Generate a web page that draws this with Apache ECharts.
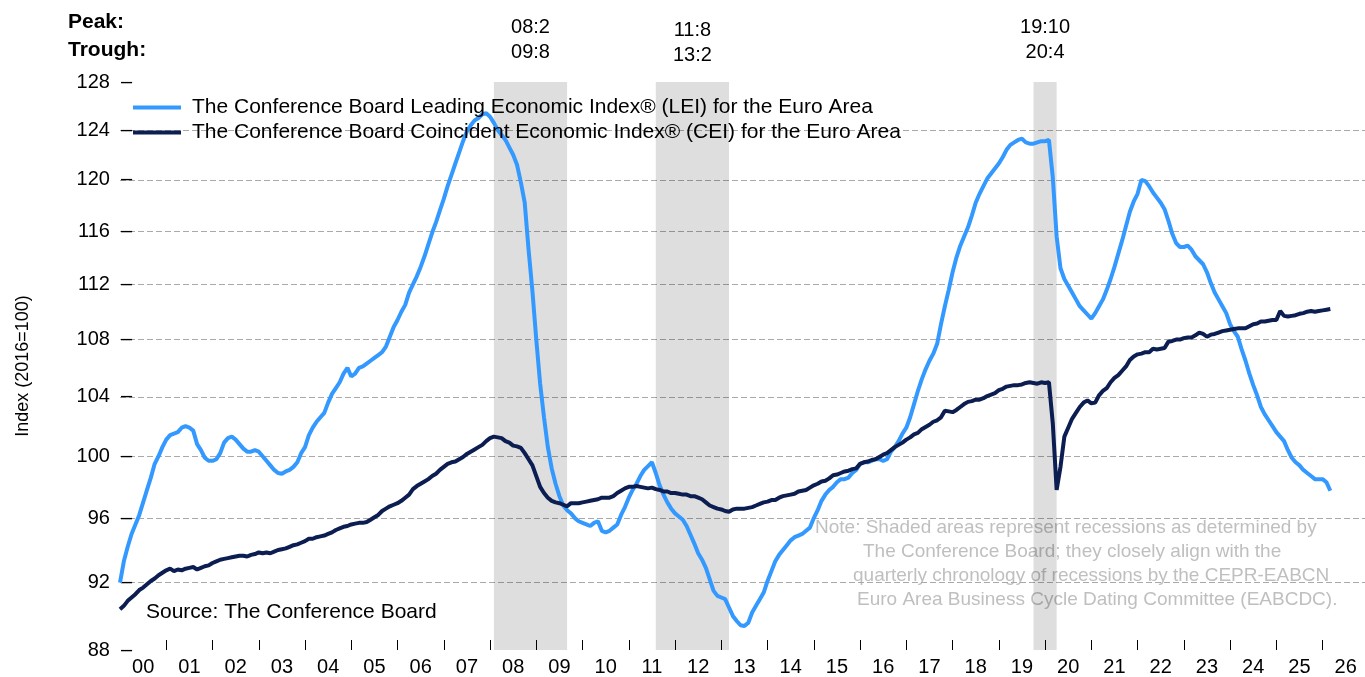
<!DOCTYPE html>
<html>
<head>
<meta charset="utf-8">
<title>Euro Area LEI and CEI</title>
<script src="https://cdn.jsdelivr.net/npm/echarts@6.0.0/dist/echarts.min.js"></script>
<style>
    html, body { margin: 0; padding: 0; background: #fff; }
    #main { width: 1365px; height: 677px; }
</style>
</head>
<body>
<div id="main"></div>
<script>
// monthly values, Jan 2000 onwards
var lei = [
    92.0, 93.3, 94.2, 95.0, 95.6, 96.2, 97.0, 97.8, 98.6, 99.5, 100.0, 100.6,          // 2000
    101.1, 101.4, 101.5, 101.6, 101.9, 102.0, 101.9, 101.7, 100.8, 100.4, 99.9, 99.7,  // 2001
    99.7, 99.8, 100.2, 100.9, 101.2, 101.3, 101.1, 100.8, 100.5, 100.3, 100.3, 100.4,  // 2002
    100.3, 100.0, 99.7, 99.4, 99.1, 98.9, 98.85, 99.0, 99.1, 99.3, 99.6, 100.2,        // 2003
    100.6, 101.4, 101.9, 102.3, 102.6, 102.9, 103.6, 104.2, 104.6, 105.0, 105.6, 106.0,// 2004
    105.4, 105.6, 106.0, 106.1, 106.3, 106.5, 106.7, 106.9, 107.1, 107.5, 108.2, 108.9,// 2005
    109.4, 110.0, 110.5, 111.4, 112.0, 112.6, 113.3, 114.1, 115.0, 115.9, 116.7, 117.6,// 2006
    118.5, 119.5, 120.4, 121.3, 122.2, 123.1, 123.9, 124.4, 124.8, 125.0, 125.3, 125.4,// 2007
    125.1, 124.6, 124.0, 123.6, 123.2, 122.6, 122.0, 121.2, 119.8, 118.2, 114.6, 111.5,// 2008
    108.0, 104.9, 102.6, 100.6, 99.2, 98.2, 97.4, 96.8, 96.5, 96.3, 96.0, 95.8,        // 2009
    95.7, 95.6, 95.5, 95.7, 95.8, 95.2, 95.1, 95.2, 95.4, 95.6, 96.2, 96.7,            // 2010
    97.3, 97.8, 98.2, 98.7, 99.1, 99.35, 99.6, 98.9, 98.1, 97.5, 97.0, 96.6,           // 2011
    96.3, 96.1, 95.9, 95.5, 94.95, 94.4, 93.8, 93.4, 92.9, 92.2, 91.5, 91.2,           // 2012
    91.1, 91.0, 90.5, 90.0, 89.7, 89.45, 89.4, 89.6, 90.2, 90.6, 91.0, 91.4,           // 2013
    92.1, 92.7, 93.3, 93.7, 94.0, 94.3, 94.6, 94.8, 94.9, 95.0, 95.2, 95.4,            // 2014
    96.0, 96.5, 97.1, 97.5, 97.8, 98.0, 98.3, 98.5, 98.5, 98.6, 98.9, 99.1,            // 2015
    99.5, 99.6, 99.6, 99.7, 99.8, 99.8, 99.7, 99.8, 100.3, 100.6, 101.0, 101.5,        // 2016
    101.9, 102.6, 103.5, 104.4, 105.2, 105.9, 106.5, 107.0, 107.7, 109.1, 110.4, 111.6,// 2017
    112.9, 114.0, 114.9, 115.6, 116.3, 117.2, 118.2, 118.9, 119.5, 120.1, 120.5, 120.9,// 2018
    121.3, 121.8, 122.4, 122.8, 123.0, 123.2, 123.3, 123.0, 122.9, 122.9, 123.0, 123.1,// 2019
    123.1, 123.2, 120.2, 115.6, 113.2, 112.4, 111.9, 111.4, 110.9, 110.4, 110.1, 109.8,// 2020
    109.5, 109.9, 110.4, 110.9, 111.6, 112.4, 113.3, 114.3, 115.3, 116.4, 117.5, 118.3,// 2021
    118.9, 120.0, 119.9, 119.5, 119.0, 118.6, 118.2, 117.7, 116.8, 115.8, 115.1, 114.8,// 2022
    114.8, 114.9, 114.6, 114.1, 113.8, 113.5, 112.9, 112.1, 111.4, 110.9, 110.4, 109.9,// 2023
    109.1, 108.6, 108.2, 107.3, 106.5, 105.6, 104.8, 104.1, 103.3, 102.8, 102.4, 102.0,// 2024
    101.6, 101.3, 101.0, 100.4, 99.9, 99.6, 99.4, 99.1, 98.9, 98.7, 98.5, 98.5,        // 2025
    98.5, 98.3, 97.75                                                                   // 2026
];
var cei = [
    90.4, 90.6, 90.9, 91.1, 91.3, 91.55, 91.7, 91.9, 92.1, 92.25, 92.45, 92.6,         // 2000
    92.75, 92.85, 92.7, 92.8, 92.75, 92.85, 92.9, 92.95, 92.8, 92.9, 93.0, 93.05,      // 2001
    93.2, 93.3, 93.4, 93.45, 93.5, 93.55, 93.6, 93.65, 93.65, 93.6, 93.7, 93.75,       // 2002
    93.85, 93.8, 93.85, 93.8, 93.9, 94.0, 94.05, 94.1, 94.2, 94.3, 94.35, 94.45,       // 2003
    94.55, 94.7, 94.7, 94.8, 94.85, 94.9, 95.0, 95.1, 95.25, 95.35, 95.45, 95.5,       // 2004
    95.6, 95.65, 95.7, 95.7, 95.75, 95.9, 96.05, 96.2, 96.45, 96.6, 96.75, 96.85,      // 2005
    96.95, 97.1, 97.3, 97.5, 97.85, 98.05, 98.2, 98.35, 98.5, 98.7, 98.85, 99.1,       // 2006
    99.3, 99.5, 99.6, 99.65, 99.8, 99.95, 100.15, 100.3, 100.45, 100.6, 100.75, 101.0, // 2007
    101.2, 101.3, 101.25, 101.2, 101.0, 100.9, 100.7, 100.65, 100.55, 100.2, 99.8, 99.4, // 2008
    98.7, 98.0, 97.6, 97.3, 97.1, 97.0, 96.95, 96.85, 96.75, 96.95, 96.95, 96.95,      // 2009
    97.0, 97.05, 97.1, 97.15, 97.2, 97.3, 97.3, 97.3, 97.4, 97.6, 97.75, 97.9,         // 2010
    98.0, 98.0, 98.05, 98.0, 97.95, 97.9, 97.95, 97.85, 97.8, 97.7, 97.7, 97.6,        // 2011
    97.6, 97.55, 97.5, 97.5, 97.4, 97.4, 97.3, 97.2, 97.0, 96.8, 96.7, 96.6,           // 2012
    96.55, 96.45, 96.4, 96.55, 96.6, 96.6, 96.6, 96.65, 96.7, 96.8, 96.9, 97.0,        // 2013
    97.05, 97.15, 97.15, 97.3, 97.4, 97.45, 97.5, 97.55, 97.7, 97.75, 97.8, 97.95,     // 2014
    98.1, 98.2, 98.35, 98.4, 98.55, 98.75, 98.8, 98.9, 99.0, 99.05, 99.15, 99.2,       // 2015
    99.5, 99.6, 99.65, 99.75, 99.8, 99.95, 100.1, 100.2, 100.4, 100.6, 100.75, 100.9,  // 2016
    101.1, 101.25, 101.45, 101.55, 101.8, 101.95, 102.1, 102.3, 102.4, 102.6, 103.05, 103.0, // 2017
    102.95, 103.1, 103.3, 103.5, 103.65, 103.7, 103.8, 103.8, 103.9, 104.05, 104.15, 104.25, // 2018
    104.45, 104.55, 104.7, 104.75, 104.8, 104.8, 104.85, 104.95, 105.0, 104.95, 104.9, 105.0, // 2019
    104.95, 105.0, 102.2, 97.8, 99.3, 101.3, 101.9, 102.5, 102.9, 103.3, 103.6, 103.75, // 2020
    103.55, 103.6, 104.1, 104.4, 104.6, 105.0, 105.3, 105.5, 105.8, 106.1, 106.55, 106.8, // 2021
    106.95, 107.0, 107.1, 107.1, 107.35, 107.3, 107.35, 107.4, 107.85, 107.9, 108.0, 108.0, // 2022
    108.1, 108.15, 108.15, 108.3, 108.5, 108.4, 108.2, 108.35, 108.4, 108.5, 108.6, 108.65, // 2023
    108.7, 108.75, 108.8, 108.8, 108.8, 108.95, 109.1, 109.15, 109.3, 109.3, 109.35, 109.4, // 2024
    109.4, 110.05, 109.7, 109.65, 109.7, 109.75, 109.85, 109.9, 110.0, 110.05, 110.0, 110.05, // 2025
    110.1, 110.15, 110.2                                                                 // 2026
];

var yTicks = [88, 92, 96, 100, 104, 108, 112, 116, 120, 124, 128];
var recStart = ['2008-02', '2011-08', '2019-10'];
var recEnd = ['2009-09', '2013-03', '2020-04'];
var peakText = ['08:2', '11:8', '19:10'];
var troughText = ['09:8', '13:2', '20:4'];
var noteLines = [
    'Note: Shaded areas represent recessions as determined by',
    'The Conference Board; they closely align with the',
    'quarterly chronology of recessions by the CEPR-EABCN',
    'Euro Area Business Cycle Dating Committee (EABCDC).'
];

var FONT = '"Liberation Sans", Arial, sans-serif';
var LEI_NAME = 'The Conference Board Leading Economic Index\u00AE (LEI) for the Euro Area';
var CEI_NAME = 'The Conference Board Coincident Economic Index\u00AE (CEI) for the Euro Area';

// month categories, axis runs through end of 2026
var months = [];
for (var y = 2000; y <= 2026; y++) {
    for (var m = 1; m <= 12; m++) {
        months.push(y + '-' + (m < 10 ? '0' + m : m));
    }
}

var areas = [];
for (var k = 0; k < recStart.length; k++) {
    areas.push([
        { xAxis: recStart[k], name: peakText[k] + '\n' + troughText[k],
          label: { distance: k === 1 ? 14 : 17 } },
        { xAxis: recEnd[k] }
    ]);
}

var noteX = [815, 863, 853, 857];
var graphics = [
    { type: 'text', x: 68, y: 22, style: { text: 'Peak:', font: 'bold 21px ' + FONT, fill: '#000', verticalAlign: 'middle' } },
    { type: 'text', x: 68, y: 50, style: { text: 'Trough:', font: 'bold 21px ' + FONT, fill: '#000', verticalAlign: 'middle' } },
    { type: 'text', x: 146, y: 612, style: { text: 'Source: The Conference Board', font: '21px ' + FONT, fill: '#000', verticalAlign: 'middle' } }
];
for (var n = 0; n < noteLines.length; n++) {
    graphics.push({ type: 'text', x: noteX[n], y: 528 + n * 24,
        style: { text: noteLines[n], font: '19px ' + FONT, fill: '#bfbfbf', verticalAlign: 'middle' } });
}

var chart = echarts.init(document.getElementById('main'));
var option = {
    animation: false,
    backgroundColor: '#fff',
    textStyle: { fontFamily: FONT },
    grid: { left: 120, right: 0, top: 82, bottom: 27, outerBoundsMode: 'none' },
    legend: {
        orient: 'vertical',
        left: 128,
        top: 92,
        itemWidth: 48,
        itemHeight: 4,
        itemGap: 4,
        icon: 'rect',
        selectedMode: false,
        textStyle: { fontSize: 21, color: '#000', lineHeight: 21, padding: [0, 0, 0, 6] },
        data: [LEI_NAME, CEI_NAME]
    },
    xAxis: {
        type: 'category',
        data: months,
        boundaryGap: false,
        axisLine: { show: false },
        axisTick: {
            show: true, inside: true, length: 10,
            interval: function (i) { return i > 0 && i % 12 === 0; },
            lineStyle: { color: '#000', width: 1 }
        },
        axisLabel: {
            interval: function (i) { return i % 12 === 6; },
            formatter: function (v) { return v.slice(2, 4); },
            fontSize: 20, color: '#000', margin: 7
        },
        splitLine: { show: false }
    },
    yAxis: {
        type: 'log',
        logBase: 10,
        min: 88,
        max: 128,
        name: 'Index (2016=100)',
        nameLocation: 'middle',
        nameGap: 88,
        nameTextStyle: { fontSize: 18, color: '#000' },
        axisLine: { show: false },
        axisTick: { show: false, customValues: yTicks },
        // the short dash after each number stands in for the tick mark
        axisLabel: {
            customValues: yTicks,
            margin: -12,
            formatter: function (v) { return '{n|' + v + '}{d|\u2013}'; },
            rich: {
                n: { fontSize: 20, color: '#000' },
                d: { fontSize: 20, color: '#000', padding: [0, 0, 0, 11] }
            }
        },
        splitLine: {
            show: true, showMinLine: false, showMaxLine: false,
            lineStyle: { color: '#a9a9a9', type: [6, 3], width: 1.2 }
        }
    },
    graphic: graphics,
    series: [
        {
            name: LEI_NAME,
            type: 'line',
            data: lei,
            symbol: 'none',
            color: '#3399ff',
            lineStyle: { width: 4 },
            markArea: {
                silent: true,
                itemStyle: { color: 'rgba(0,0,0,0.13)' },
                label: { show: true, position: 'top', color: '#000', fontSize: 20, lineHeight: 25, fontFamily: FONT },
                data: areas
            }
        },
        {
            name: CEI_NAME,
            type: 'line',
            data: cei,
            symbol: 'none',
            color: '#0b1d51',
            lineStyle: { width: 4 }
        }
    ]
};
chart.setOption(option);
</script>
</body>
</html>
